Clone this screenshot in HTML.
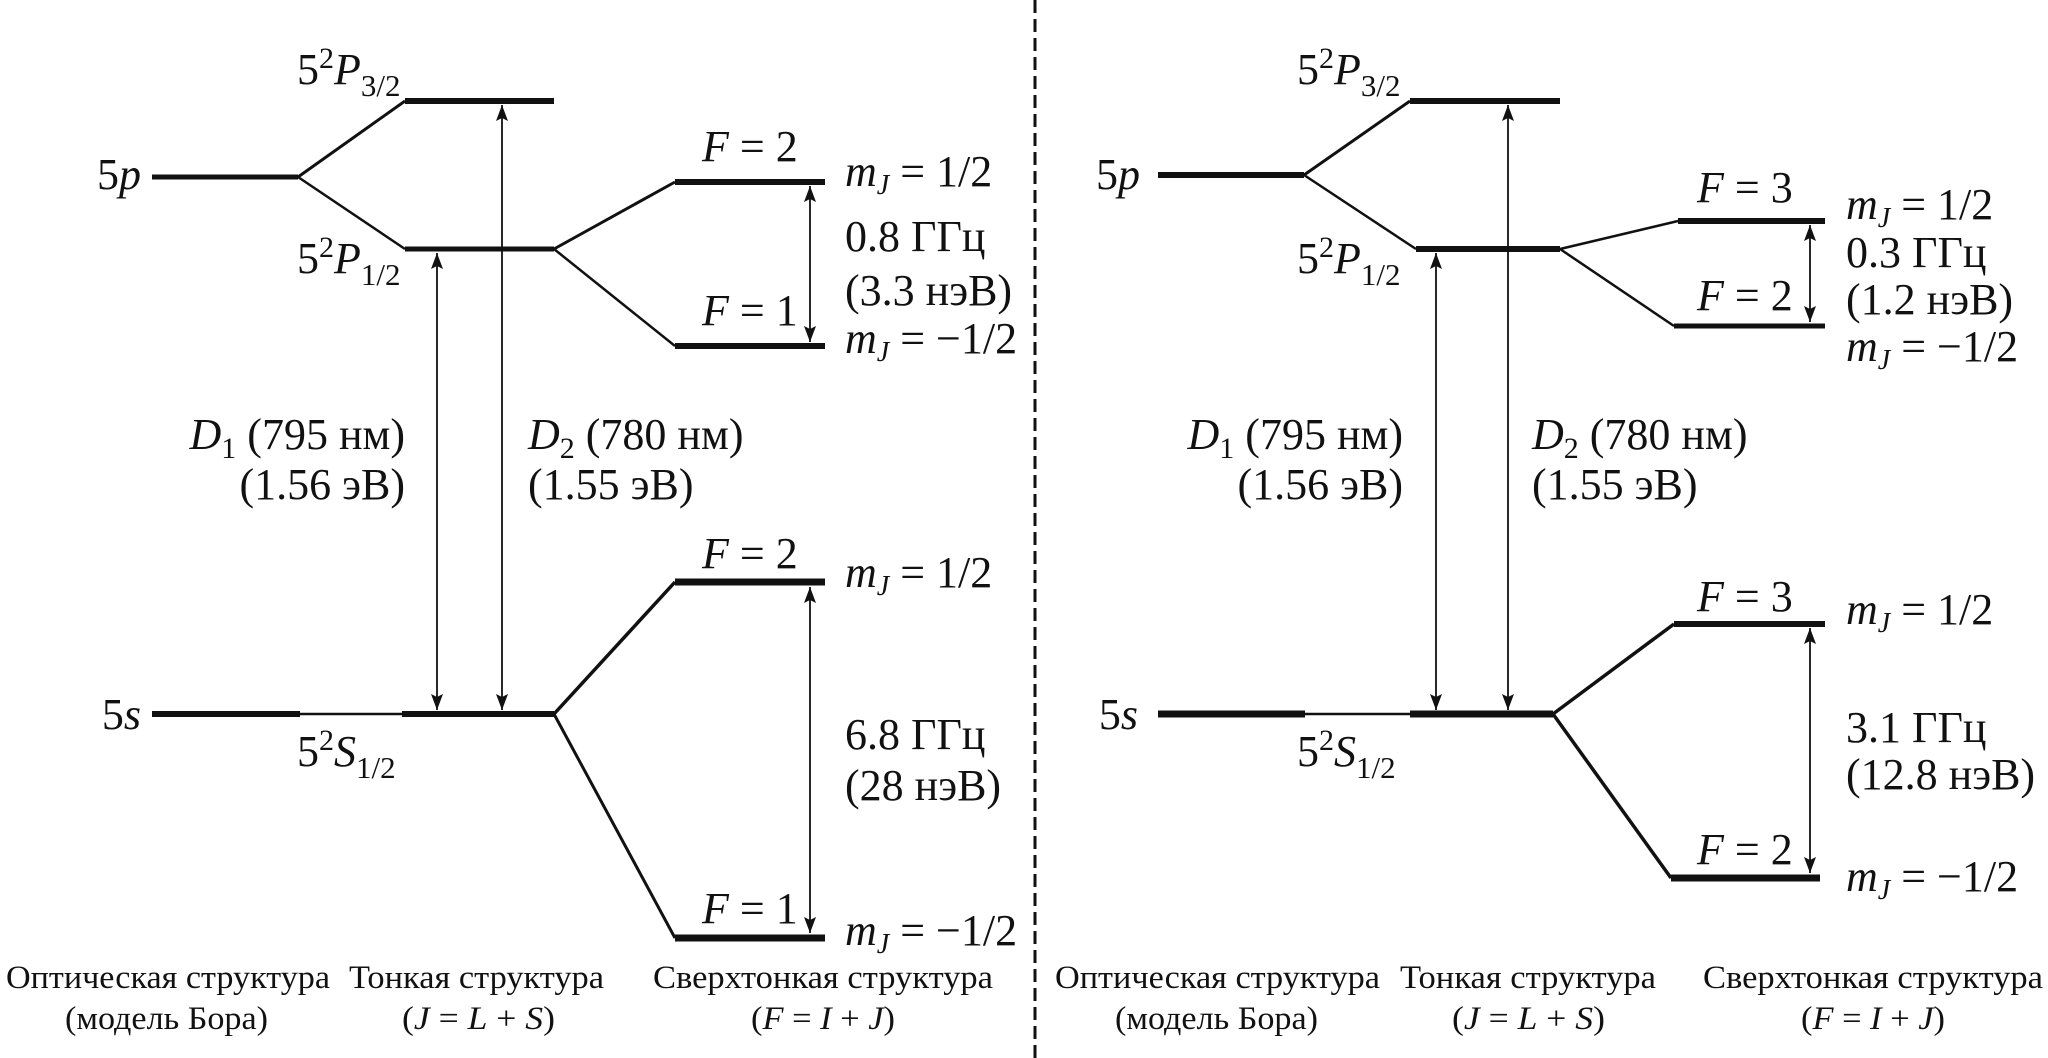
<!DOCTYPE html>
<html><head><meta charset="utf-8"><style>
html,body{margin:0;padding:0;background:#fff;}
svg{display:block;}
text{font-family:"Liberation Serif",serif;fill:#111;}
.t{font-size:44px;}
.i{font-style:italic;}
.b{font-size:33px;}
</style></head><body>
<svg width="2048" height="1058" viewBox="0 0 2048 1058" xmlns="http://www.w3.org/2000/svg">
<defs>
<marker id="m" viewBox="0 0 16 12" refX="16" refY="6" markerWidth="16" markerHeight="12" markerUnits="userSpaceOnUse" orient="auto-start-reverse">
<path d="M0,0 L16,6 L0,12 L3,6 z" fill="#111"/>
</marker>
</defs>
<g stroke="#111" fill="none" stroke-linecap="butt">
<line x1="1035" y1="0" x2="1035" y2="1058" stroke-width="3" stroke-dasharray="13,6"/>

<line x1="152" y1="177" x2="298" y2="177" stroke-width="5"/>
<line x1="298" y1="177" x2="405" y2="101" stroke-width="3"/>
<line x1="298" y1="177" x2="405" y2="249" stroke-width="2.5"/>
<line x1="405" y1="101" x2="554" y2="101" stroke-width="6"/>
<line x1="405" y1="249" x2="554" y2="249" stroke-width="5"/>
<line x1="554" y1="249" x2="675" y2="182" stroke-width="3"/>
<line x1="554" y1="249" x2="675" y2="346" stroke-width="2.5"/>
<line x1="675" y1="182" x2="825" y2="182" stroke-width="6"/>
<line x1="675" y1="346" x2="825" y2="346" stroke-width="6"/>
<line x1="152" y1="714" x2="300" y2="714" stroke-width="6"/>
<line x1="300" y1="714" x2="402" y2="714" stroke-width="2.5"/>
<line x1="402" y1="714" x2="554" y2="714" stroke-width="6"/>
<line x1="554" y1="714" x2="675" y2="582" stroke-width="3.5"/>
<line x1="554" y1="714" x2="675" y2="938" stroke-width="3"/>
<line x1="675" y1="582" x2="825" y2="582" stroke-width="7"/>
<line x1="675" y1="938" x2="825" y2="938" stroke-width="7"/>
<line x1="437" y1="253" x2="437" y2="710" stroke-width="1.8" marker-start="url(#m)" marker-end="url(#m)"/>
<line x1="502" y1="105" x2="502" y2="710" stroke-width="1.8" marker-start="url(#m)" marker-end="url(#m)"/>
<line x1="810" y1="186" x2="810" y2="342" stroke-width="1.8" marker-start="url(#m)" marker-end="url(#m)"/>
<line x1="810" y1="587" x2="810" y2="933" stroke-width="1.8" marker-start="url(#m)" marker-end="url(#m)"/>

<line x1="1158" y1="175" x2="1304" y2="175" stroke-width="6"/>
<line x1="1304" y1="175" x2="1410" y2="101" stroke-width="3"/>
<line x1="1304" y1="175" x2="1416" y2="249" stroke-width="2.5"/>
<line x1="1410" y1="101" x2="1560" y2="101" stroke-width="6"/>
<line x1="1416" y1="249" x2="1560" y2="249" stroke-width="6"/>
<line x1="1560" y1="249" x2="1678" y2="221" stroke-width="2.5"/>
<line x1="1560" y1="249" x2="1674" y2="326" stroke-width="2.5"/>
<line x1="1678" y1="221" x2="1825" y2="221" stroke-width="6"/>
<line x1="1674" y1="326" x2="1825" y2="326" stroke-width="5"/>
<line x1="1158" y1="714" x2="1305" y2="714" stroke-width="7"/>
<line x1="1305" y1="714" x2="1410" y2="714" stroke-width="2.5"/>
<line x1="1410" y1="714" x2="1553" y2="714" stroke-width="7"/>
<line x1="1553" y1="714" x2="1674" y2="624" stroke-width="3.5"/>
<line x1="1553" y1="714" x2="1671" y2="878" stroke-width="3.5"/>
<line x1="1674" y1="624" x2="1825" y2="624" stroke-width="6"/>
<line x1="1671" y1="878" x2="1820" y2="878" stroke-width="7"/>
<line x1="1436" y1="253" x2="1436" y2="710" stroke-width="1.8" marker-start="url(#m)" marker-end="url(#m)"/>
<line x1="1508" y1="105" x2="1508" y2="710" stroke-width="1.8" marker-start="url(#m)" marker-end="url(#m)"/>
<line x1="1810" y1="225" x2="1810" y2="322" stroke-width="1.8" marker-start="url(#m)" marker-end="url(#m)"/>
<line x1="1810" y1="628" x2="1810" y2="873" stroke-width="1.8" marker-start="url(#m)" marker-end="url(#m)"/>
</g>

<g class="t">
<text x="141" y="189" text-anchor="end">5<tspan class="i">p</tspan></text>
<text x="297" y="84">5<tspan font-size="30" dy="-16">2</tspan><tspan class="i" dy="16">P</tspan><tspan font-size="31" dy="12">3/2</tspan></text>
<text x="297" y="273">5<tspan font-size="30" dy="-16">2</tspan><tspan class="i" dy="16">P</tspan><tspan font-size="31" dy="12">1/2</tspan></text>
<text x="141" y="729" text-anchor="end">5<tspan class="i">s</tspan></text>
<text x="297" y="766">5<tspan font-size="30" dy="-16">2</tspan><tspan class="i" dy="16">S</tspan><tspan font-size="31" dy="12">1/2</tspan></text>
<text x="702" y="161"><tspan class="i">F</tspan> = 2</text>
<text x="702" y="325"><tspan class="i">F</tspan> = 1</text>
<text x="702" y="568"><tspan class="i">F</tspan> = 2</text>
<text x="702" y="923"><tspan class="i">F</tspan> = 1</text>
<text x="845" y="186"><tspan class="i">m</tspan><tspan class="i" font-size="28" dy="8">J</tspan><tspan dy="-8"> = 1/2</tspan></text>
<text x="845" y="251">0.8 ГГц</text>
<text x="845" y="305">(3.3 нэВ)</text>
<text x="845" y="353"><tspan class="i">m</tspan><tspan class="i" font-size="28" dy="8">J</tspan><tspan dy="-8"> = −1/2</tspan></text>
<text x="845" y="587"><tspan class="i">m</tspan><tspan class="i" font-size="28" dy="8">J</tspan><tspan dy="-8"> = 1/2</tspan></text>
<text x="845" y="749">6.8 ГГц</text>
<text x="845" y="800">(28 нэВ)</text>
<text x="845" y="945"><tspan class="i">m</tspan><tspan class="i" font-size="28" dy="8">J</tspan><tspan dy="-8"> = −1/2</tspan></text>
<text x="405" y="449" text-anchor="end"><tspan class="i">D</tspan><tspan font-size="30" dy="9">1</tspan><tspan dy="-9"> (795 нм)</tspan></text>
<text x="405" y="499" text-anchor="end">(1.56 эВ)</text>
<text x="528" y="449"><tspan class="i">D</tspan><tspan font-size="30" dy="9">2</tspan><tspan dy="-9"> (780 нм)</tspan></text>
<text x="528" y="499">(1.55 эВ)</text>
</g>

<g class="t">
<text x="1140" y="189" text-anchor="end">5<tspan class="i">p</tspan></text>
<text x="1297" y="84">5<tspan font-size="30" dy="-16">2</tspan><tspan class="i" dy="16">P</tspan><tspan font-size="31" dy="12">3/2</tspan></text>
<text x="1297" y="273">5<tspan font-size="30" dy="-16">2</tspan><tspan class="i" dy="16">P</tspan><tspan font-size="31" dy="12">1/2</tspan></text>
<text x="1138" y="729" text-anchor="end">5<tspan class="i">s</tspan></text>
<text x="1297" y="766">5<tspan font-size="30" dy="-16">2</tspan><tspan class="i" dy="16">S</tspan><tspan font-size="31" dy="12">1/2</tspan></text>
<text x="1697" y="202"><tspan class="i">F</tspan> = 3</text>
<text x="1697" y="310"><tspan class="i">F</tspan> = 2</text>
<text x="1697" y="611"><tspan class="i">F</tspan> = 3</text>
<text x="1697" y="864"><tspan class="i">F</tspan> = 2</text>
<text x="1846" y="219"><tspan class="i">m</tspan><tspan class="i" font-size="28" dy="8">J</tspan><tspan dy="-8"> = 1/2</tspan></text>
<text x="1846" y="267">0.3 ГГц</text>
<text x="1846" y="314">(1.2 нэВ)</text>
<text x="1846" y="361"><tspan class="i">m</tspan><tspan class="i" font-size="28" dy="8">J</tspan><tspan dy="-8"> = −1/2</tspan></text>
<text x="1846" y="624"><tspan class="i">m</tspan><tspan class="i" font-size="28" dy="8">J</tspan><tspan dy="-8"> = 1/2</tspan></text>
<text x="1846" y="742">3.1 ГГц</text>
<text x="1846" y="789">(12.8 нэВ)</text>
<text x="1846" y="891"><tspan class="i">m</tspan><tspan class="i" font-size="28" dy="8">J</tspan><tspan dy="-8"> = −1/2</tspan></text>
<text x="1403" y="449" text-anchor="end"><tspan class="i">D</tspan><tspan font-size="30" dy="9">1</tspan><tspan dy="-9"> (795 нм)</tspan></text>
<text x="1403" y="499" text-anchor="end">(1.56 эВ)</text>
<text x="1532" y="449"><tspan class="i">D</tspan><tspan font-size="30" dy="9">2</tspan><tspan dy="-9"> (780 нм)</tspan></text>
<text x="1532" y="499">(1.55 эВ)</text>
</g>

<g class="b">
<text x="6" y="988" textLength="324" lengthAdjust="spacingAndGlyphs">Оптическая структура</text>
<text x="65" y="1029" textLength="203" lengthAdjust="spacingAndGlyphs">(модель Бора)</text>
<text x="349" y="988" textLength="255" lengthAdjust="spacingAndGlyphs">Тонкая структура</text>
<text x="402" y="1029" textLength="153" lengthAdjust="spacingAndGlyphs">(<tspan class="i">J</tspan> = <tspan class="i">L</tspan> + <tspan class="i">S</tspan>)</text>
<text x="653" y="988" textLength="340" lengthAdjust="spacingAndGlyphs">Сверхтонкая структура</text>
<text x="751" y="1029" textLength="144" lengthAdjust="spacingAndGlyphs">(<tspan class="i">F</tspan> = <tspan class="i">I</tspan> + <tspan class="i">J</tspan>)</text>
<text x="1055" y="988" textLength="325" lengthAdjust="spacingAndGlyphs">Оптическая структура</text>
<text x="1115" y="1029" textLength="203" lengthAdjust="spacingAndGlyphs">(модель Бора)</text>
<text x="1400" y="988" textLength="256" lengthAdjust="spacingAndGlyphs">Тонкая структура</text>
<text x="1452" y="1029" textLength="153" lengthAdjust="spacingAndGlyphs">(<tspan class="i">J</tspan> = <tspan class="i">L</tspan> + <tspan class="i">S</tspan>)</text>
<text x="1703" y="988" textLength="340" lengthAdjust="spacingAndGlyphs">Сверхтонкая структура</text>
<text x="1801" y="1029" textLength="144" lengthAdjust="spacingAndGlyphs">(<tspan class="i">F</tspan> = <tspan class="i">I</tspan> + <tspan class="i">J</tspan>)</text>
</g>
</svg>
</body></html>
